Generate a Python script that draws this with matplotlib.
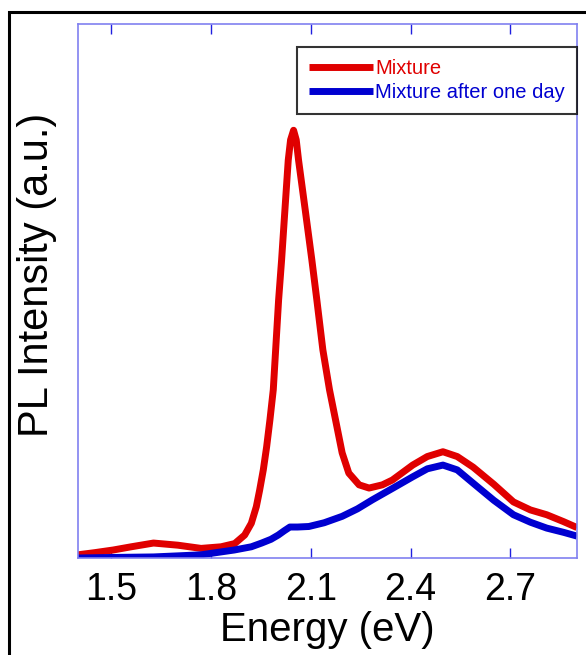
import matplotlib
matplotlib.use("Agg")
import matplotlib.pyplot as plt
from matplotlib.patches import Rectangle

plt.rcParams['font.family'] = ['Liberation Sans', 'DejaVu Sans']

# Data
mix_x = [1.400, 1.450, 1.506, 1.560, 1.627, 1.700, 1.770, 1.830, 1.871, 1.901,
         1.921, 1.936, 1.946, 1.957, 1.967, 1.977, 1.987, 2.003, 2.012, 2.022,
         2.032, 2.039, 2.048, 2.056, 2.063, 2.083, 2.103, 2.118, 2.136, 2.156,
         2.176, 2.194, 2.214, 2.245, 2.275, 2.315, 2.345, 2.406, 2.450, 2.497,
         2.540, 2.588, 2.650, 2.709, 2.760, 2.809, 2.860, 2.900]
mix_y = [0.006, 0.010, 0.015, 0.021, 0.028, 0.024, 0.018, 0.021, 0.027, 0.043,
         0.065, 0.096, 0.127, 0.165, 0.208, 0.259, 0.315, 0.483, 0.558, 0.652,
         0.745, 0.783, 0.801, 0.783, 0.745, 0.652, 0.558, 0.483, 0.390, 0.315,
         0.253, 0.197, 0.159, 0.137, 0.131, 0.137, 0.146, 0.174, 0.190, 0.199,
         0.190, 0.170, 0.138, 0.105, 0.090, 0.081, 0.068, 0.057]

day_x = [1.400, 1.500, 1.627, 1.700, 1.770, 1.870, 1.921, 1.952, 1.980, 2.002,
         2.020, 2.037, 2.060, 2.094, 2.140, 2.194, 2.240, 2.285, 2.350, 2.406,
         2.450, 2.497, 2.540, 2.588, 2.650, 2.709, 2.760, 2.809, 2.860, 2.900]
day_y = [0.000, 0.001, 0.002, 0.004, 0.006, 0.015, 0.021, 0.028, 0.035, 0.043,
         0.051, 0.058, 0.058, 0.059, 0.066, 0.078, 0.092, 0.109, 0.132, 0.152,
         0.167, 0.174, 0.165, 0.140, 0.108, 0.081, 0.067, 0.056, 0.048, 0.041]

series_labels = ["Mixture", "Mixture after one day"]
series_colors = ["#e00000", "#0000d0"]
xticks = [1.5, 1.8, 2.1, 2.4, 2.7]

fig = plt.figure(figsize=(5.86, 6.55), dpi=100)
ax = fig.add_axes([78/586, 1-558/655, 499/586, 534/655])

ax.plot(mix_x, mix_y, color=series_colors[0], lw=5, solid_joinstyle='round',
        solid_capstyle='butt', label=series_labels[0])
ax.plot(day_x, day_y, color=series_colors[1], lw=5, solid_joinstyle='round',
        solid_capstyle='butt', label=series_labels[1])

ax.set_xlim(1.4, 2.9)
ax.set_ylim(0, 1.0)
ax.set_xticks(xticks)
ax.set_xticklabels([f"{t:.1f}" for t in xticks])
ax.set_yticks([])

for s in ax.spines.values():
    s.set_color('#8080f0')
    s.set_linewidth(1.2)

ax.tick_params(axis='x', direction='in', top=True, bottom=True, length=7,
               width=1, color='#2020e0', labelsize=27, pad=10, labelcolor='black')

ax.set_xlabel("Energy (eV)", fontsize=29, labelpad=2)
ax.set_ylabel("PL Intensity (a.u.)", fontsize=30)
ax.yaxis.set_label_coords(-0.043, 0.53)

leg = ax.legend(loc='upper right', bbox_to_anchor=(1.0, (558-47)/534),
                fontsize=14.5, frameon=True, fancybox=False, handlelength=3.2,
                handletextpad=0.1, labelspacing=0.25, borderpad=0.6,
                borderaxespad=0)
leg.get_frame().set_edgecolor('black')
leg.get_frame().set_linewidth(1.5)
for txt, c in zip(leg.get_texts(), series_colors):
    txt.set_color(c)

# outer black frame (partly beyond the canvas)
fig.patches.append(Rectangle((9/586, -0.1), 1.2, 1 - 12/655 + 0.1,
                             transform=fig.transFigure, fill=False,
                             edgecolor='black', lw=2.2, zorder=-1))

fig.savefig("out.png", dpi=100)
